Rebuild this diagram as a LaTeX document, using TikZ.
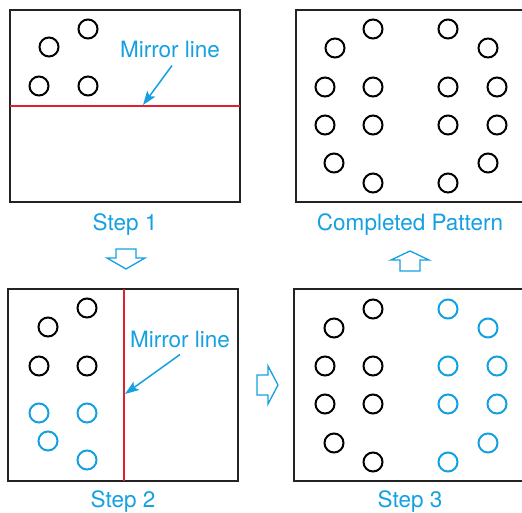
\documentclass[tikz,border=0pt]{standalone}
\usepackage{fontspec}
\setmainfont{TeX Gyre Heros}
\usetikzlibrary{arrows.meta}
\definecolor{cblue}{RGB}{20,160,225}
\definecolor{cred}{RGB}{225,30,50}
\definecolor{cbox}{RGB}{35,35,35}
\begin{document}
\begin{tikzpicture}[x=1pt,y=-1pt,
  dot/.style={circle,draw=black,line width=2pt,minimum size=19pt,inner sep=0pt},
  bdot/.style={dot,draw=cblue},
  frame/.style={draw=cbox,line width=2.5pt},
  mirror/.style={draw=cred,line width=1.3pt},
  lbl/.style={text=cblue,font=\fontsize{22.5}{27}\selectfont,anchor=base,inner sep=0pt},
  pointer/.style={draw=cblue,line width=1.5pt,-{Stealth[length=14pt,width=10pt,inset=3pt]}},
  blockarrow/.style={draw=cblue,line width=1.3pt,line join=miter}]
\useasboundingbox (0,0) rectangle (522,513);
\clip (0,0) rectangle (522,513);

% ---------- Step 1 ----------
\draw[frame] (10,10) rectangle (240,202);
\draw[mirror] (10,106) -- (240,106);
\foreach \x/\y [count=\i] in {88/29,49/47,39/86,88/86}
  \node[dot] (sa\i) at (\x,\y) {};
\node[lbl] (m1) at (170,58) {Mirror line};
\coordinate (t1) at (143,105);
\draw[pointer] ([shift={(2,7)}]m1.south) -- (t1);
\node[lbl] (s1) at (125,230) {Step 1};

% ---------- Completed pattern ----------
\draw[frame] (540,10) -- (296,10) -- (296,202) -- (540,202);
\foreach \x/\y [count=\i] in {373/29,335/48,448/29,488/48,
    325/87,373/87,448/87,497/87,
    325/125,373/125,448/125,497/125,
    334/163,488/163,373/183,448/183}
  \node[dot] (cp\i) at (\x,\y) {};
\node[lbl] (s4) at (410,230) {Completed Pattern};

% ---------- Step 2 ----------
\draw[frame] (8,289) rectangle (238,481);
\draw[mirror] (124,289) -- (124,481);
\foreach \x/\y [count=\i] in {87/308,48/327,39/366,87/366}
  \node[dot] (sb\i) at (\x,\y) {};
\foreach \x/\y [count=\i] in {39/413,87/413,48/441,87/460}
  \node[bdot] (sbb\i) at (\x,\y) {};
\node[lbl] (m2) at (180,347) {Mirror line};
\coordinate (t2) at (125,394);
\draw[pointer] ([shift={(0,7)}]m2.south) -- (t2);
\node[lbl] (s2) at (123,507) {Step 2};

% ---------- Step 3 ----------
\draw[frame] (540,289) -- (294,289) -- (294,481) -- (540,481);
\foreach \x/\y [count=\i] in {373/309,334/328,325/366,373/366,
    325/404,373/404,334/443,373/462}
  \node[dot] (sc\i) at (\x,\y) {};
\foreach \x/\y [count=\i] in {448/309,488/328,448/366,497/366,
    448/404,497/404,488/443,448/462}
  \node[bdot] (scb\i) at (\x,\y) {};
\node[lbl] (s3) at (410,507) {Step 3};

% ---------- block arrows ----------
\draw[blockarrow] (116,249) -- (136,249) -- (136,258) -- (145,258) -- (126,269) -- (107,258) -- (116,258) -- cycle;
\draw[blockarrow] (257,375) -- (268,375) -- (268,366) -- (278,385) -- (268,404) -- (268,395) -- (257,395) -- cycle;
\draw[blockarrow] (400,271) -- (420,271) -- (420,260) -- (429,260) -- (410,251) -- (391,260) -- (400,260) -- cycle;
\end{tikzpicture}
\end{document}
